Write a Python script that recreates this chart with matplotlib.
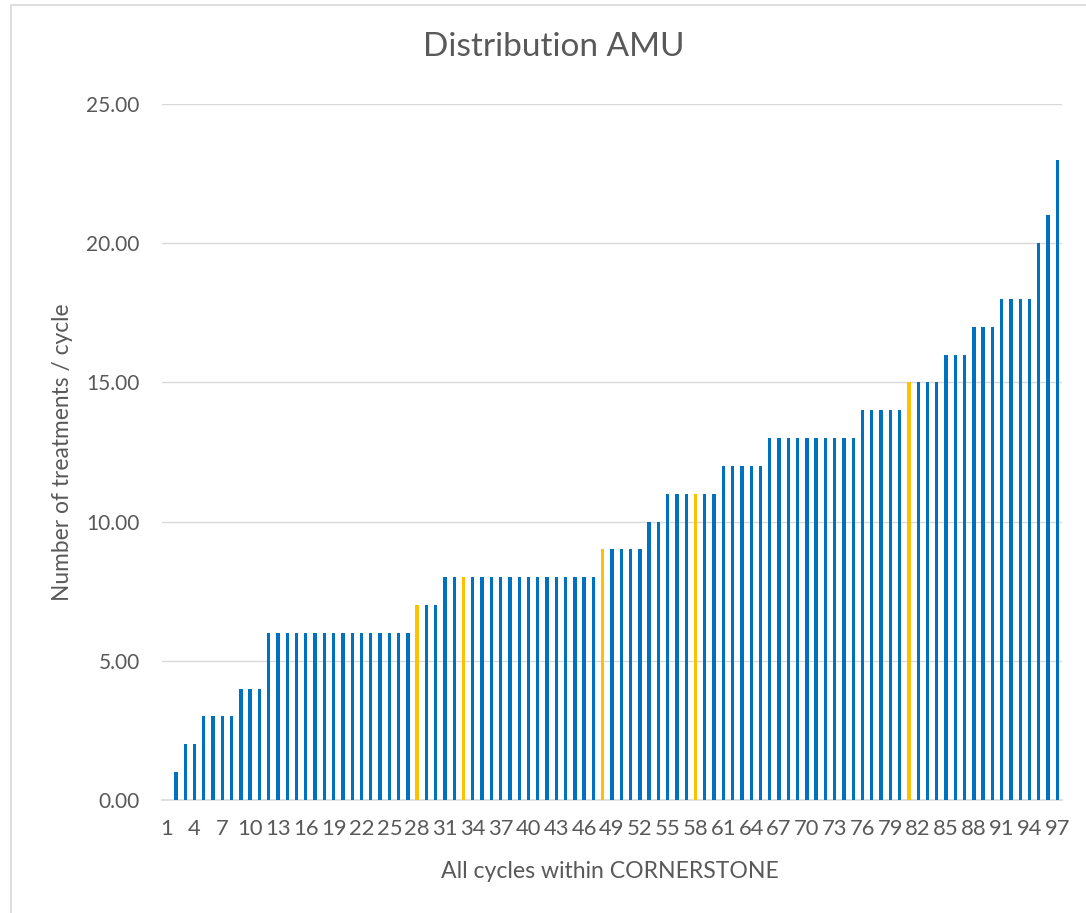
import matplotlib
matplotlib.use("Agg")
import matplotlib.pyplot as plt
from matplotlib.patches import Rectangle

plt.rcParams['font.family'] = ['Lato', 'DejaVu Sans']

# ---- data ----
categories = list(range(1, 98))
values = [0, 1, 2, 2, 3, 3, 3, 3, 4, 4, 4,
          6, 6, 6, 6, 6, 6, 6, 6, 6, 6, 6, 6, 6, 6, 6, 6,
          7, 7, 7,
          8, 8, 8, 8, 8, 8, 8, 8, 8, 8, 8, 8, 8, 8, 8, 8, 8,
          9, 9, 9, 9, 9,
          10, 10,
          11, 11, 11, 11, 11, 11,
          12, 12, 12, 12, 12,
          13, 13, 13, 13, 13, 13, 13, 13, 13, 13,
          14, 14, 14, 14, 14,
          15, 15, 15, 15,
          16, 16, 16,
          17, 17, 17,
          18, 18, 18, 18,
          20, 21, 23]
highlighted = [28, 33, 48, 58, 81]
tick_labels = [str(c) for c in categories[::3]]
y_ticks = [0, 5, 10, 15, 20, 25]

title = "Distribution AMU"
x_label = "All cycles within CORNERSTONE"
y_label = "Number of treatments / cycle"

BLUE = "#0070C0"
YELLOW = "#FFC000"
GRID = "#D9D9D9"
TEXT = "#595959"

W, H = 1086, 913
fig = plt.figure(figsize=(W / 100, H / 100), dpi=100)

# chart border
fig.patches.append(Rectangle((11 / W, -0.1), 1.2, 1 - 5 / H + 0.1,
                             transform=fig.transFigure, fill=False,
                             edgecolor=GRID, linewidth=1.2))

left, right = 162 / W, 1062 / W
bottom, top = 1 - 800 / H, 1 - 104 / H
ax = fig.add_axes([left, bottom, right - left, top - bottom])

colors = [YELLOW if c in highlighted else BLUE for c in categories]
ax.bar(categories, values, width=0.36, color=colors, zorder=3)

ax.set_xlim(0.5, 97.5)
ax.set_ylim(0, 25)
ax.set_yticks(y_ticks)
ax.set_yticklabels([f"{v:.2f}" for v in y_ticks])
ax.set_xticks(categories[::3])
ax.set_xticklabels(tick_labels)

ax.grid(axis='y', color=GRID, linewidth=1.0, zorder=0)
for s in ['top', 'right', 'left']:
    ax.spines[s].set_visible(False)
ax.spines['bottom'].set_color(GRID)
ax.spines['bottom'].set_linewidth(1.2)

ax.tick_params(axis='both', length=0, labelcolor=TEXT)
ax.tick_params(axis='y', pad=16, labelsize=15)
ax.tick_params(axis='x', pad=14, labelsize=15.8)

fig.text(554 / W, 1 - 47 / H, title, ha='center', va='center',
         fontsize=24, color=TEXT)
fig.text(610 / W, 1 - 872 / H, x_label, ha='center', va='center',
         fontsize=16.6, color=TEXT)
fig.text(63 / W, 1 - 452 / H, y_label, ha='center', va='center',
         rotation=90, fontsize=16.4, color=TEXT)

fig.savefig("out.png", dpi=100)
